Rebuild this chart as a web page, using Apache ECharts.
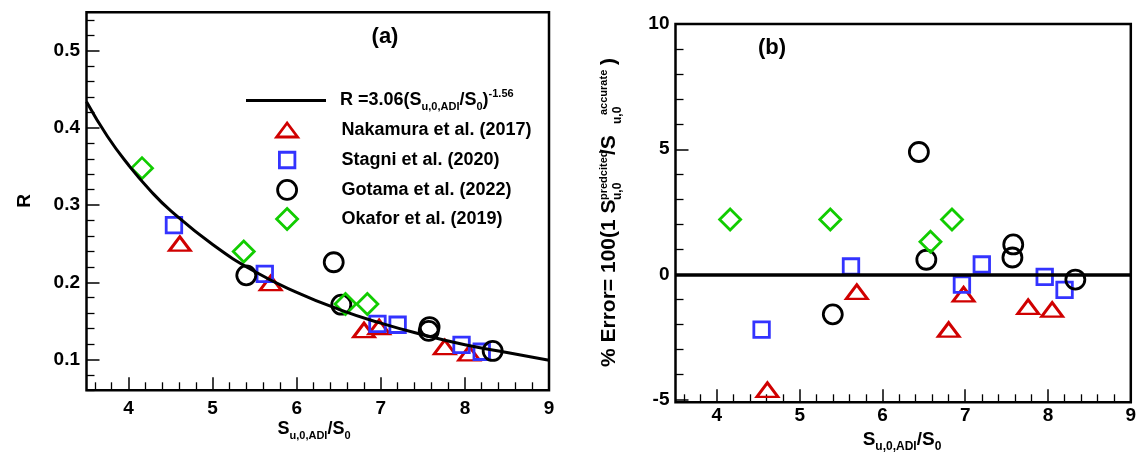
<!DOCTYPE html>
<html><head><meta charset="utf-8">
<script src="https://cdn.jsdelivr.net/npm/echarts@6/dist/echarts.min.js"></script>
<style>html,body{margin:0;padding:0;background:#fff}#c{width:1142px;height:459px}</style>
</head><body><div id="c"></div>
<script>
// ---- data ----
const fitX = [3.5, 3.75, 4, 4.25, 4.5, 5, 5.5, 6, 6.5, 7, 7.5, 8, 8.5, 9];
const fitR = [0.434, 0.389, 0.352, 0.320, 0.293, 0.249, 0.214, 0.187, 0.165, 0.147, 0.132, 0.119, 0.109, 0.099];

const nakX = [4.61, 5.69, 6.80, 6.98, 7.76, 8.05];
const nakR = [0.250, 0.199, 0.138, 0.142, 0.116, 0.108];
const nakE = [-4.6, -0.69, -2.2, -0.79, -1.29, -1.4];

const stagX = [4.54, 5.62, 6.96, 7.20, 7.96, 8.20];
const stagR = [0.274, 0.211, 0.146, 0.145, 0.119, 0.110];
const stagE = [-2.2, 0.32, -0.4, 0.4, -0.09, -0.61];

const gotX = [5.40, 6.44, 6.53, 7.58, 7.57, 8.33];
const gotR = [0.209, 0.226, 0.171, 0.142, 0.137, 0.111];
const gotE = [-1.59, 4.89, 0.59, 1.2, 0.68, -0.2];

const okaX = [4.16, 5.37, 6.58, 6.84];
const okaR = [0.348, 0.240, 0.172, 0.172];
const okaE = [2.2, 2.2, 1.31, 2.2];

const zeroLine = [0];

// tick labels
const xTicks = [4, 5, 6, 7, 8, 9];
const xMinor = [3.6, 3.8, 4.2, 4.4, 4.6, 4.8, 5.2, 5.4, 5.6, 5.8, 6.2, 6.4, 6.6, 6.8, 7.2, 7.4, 7.6, 7.8, 8.2, 8.4, 8.6, 8.8];
const rTicks = [0.1, 0.2, 0.3, 0.4, 0.5];
const rMinor = [0.06, 0.08, 0.12, 0.14, 0.16, 0.18, 0.22, 0.24, 0.26, 0.28, 0.32, 0.34, 0.36, 0.38, 0.42, 0.44, 0.46, 0.48, 0.52, 0.54];
const eTicks = [-5, 0, 5, 10];
const eMinor = [-4, -3, -2, -1, 1, 2, 3, 4, 6, 7, 8, 9];

const names = ['eq', 'Nakamura et al. (2017)', 'Stagni et al. (2020)', 'Gotama et al. (2022)', 'Okafor et al. (2019)'];

// ---- styling ----
const FONT = '"Liberation Sans", Arial, sans-serif';
const RED = '#d00000', BLUE = '#3333ff', BLACK = '#000000', GREEN = '#11cc00';
const BW = 2.8;
const zip = (a, b) => a.map((v, i) => [v, b[i]]);

function majorAxis(grid, min, max, ticks, fmt, margin, fs, pos) {
  return {type: 'value', gridIndex: grid, position: pos, min: min, max: max,
    axisLine: {show: false, onZero: false}, splitLine: {show: false},
    axisTick: {show: true, inside: true, length: 13, customValues: ticks, lineStyle: {color: '#000', width: 1.5}},
    axisLabel: {show: true, customValues: ticks, formatter: fmt, margin: margin, color: '#000',
      fontSize: fs, fontWeight: 'bold', fontFamily: FONT}};
}
function minorAxis(grid, min, max, ticks, pos) {
  return {type: 'value', gridIndex: grid, position: pos, min: min, max: max,
    axisLine: {show: false, onZero: false}, splitLine: {show: false},
    axisTick: {show: true, inside: true, length: 8, customValues: ticks, lineStyle: {color: '#000', width: 1.3}},
    axisLabel: {show: false}};
}
function scat(name, x, y, xi, yi, symbol, size, color) {
  return {type: 'scatter', name: name, xAxisIndex: xi, yAxisIndex: yi, data: zip(x, y),
    symbol: symbol, symbolSize: size,
    itemStyle: {color: 'rgba(0,0,0,0)', borderColor: color, borderWidth: BW, opacity: 1},
    emphasis: {disabled: true}};
}
function leg(name, left, top, iw, ih, color, padL) {
  return {left: left, top: top, padding: 0, itemWidth: iw, itemHeight: ih, data: [name], selectedMode: false,
    itemStyle: {color: 'rgba(0,0,0,0)', borderColor: color, borderWidth: BW},
    textStyle: {fontSize: 18, fontWeight: 'bold', fontFamily: FONT, color: '#000', lineHeight: 20, padding: [0, 0, 0, padL]}};
}

const T = {tri: [21, 14], sq: 15.5, ci: 19, di: 21};

const option = {
  animation: false,
  backgroundColor: '#fff',
  grid: [
    {left: 86.5, top: 12.3, width: 462.5, height: 378, show: true, borderColor: '#000', borderWidth: 2.5, backgroundColor: 'rgba(0,0,0,0)'},
    {left: 675.5, top: 24, width: 455.3, height: 378.3, show: true, borderColor: '#000', borderWidth: 2.5, backgroundColor: 'rgba(0,0,0,0)'}
  ],
  xAxis: [
    majorAxis(0, 3.5, 9, xTicks, v => String(v), 9, 19, 'bottom'),
    minorAxis(0, 3.5, 9, xMinor, 'bottom'),
    majorAxis(1, 3.5, 9, xTicks, v => String(v), 4, 19, 'bottom'),
    minorAxis(1, 3.5, 9, xMinor, 'bottom')
  ],
  yAxis: [
    majorAxis(0, 0.06, 0.55, rTicks, v => v.toFixed(1), 6.5, 19, 'left'),
    minorAxis(0, 0.06, 0.55, rMinor, 'left'),
    majorAxis(1, -5.1, 10, eTicks, v => String(v), 6, 19, 'left'),
    minorAxis(1, -5.1, 10, eMinor, 'left')
  ],
  legend: [
    {left: 246, top: 88.5, padding: 0, itemWidth: 80, itemHeight: 3, data: [{name: 'eq', icon: 'rect'}], selectedMode: false,
      itemStyle: {color: '#000', borderWidth: 0},
      formatter: () => '{m|R =3.06(S}{s|u,0,ADI}{m|/S}{s|0}{m|)}{p|-1.56}',
      textStyle: {fontSize: 18, fontWeight: 'bold', fontFamily: FONT, color: '#000', padding: [0, 0, 0, 9],
        rich: {
          m: {fontSize: 18, fontWeight: 'bold', fontFamily: FONT, color: '#000', lineHeight: 24},
          s: {fontSize: 11, fontWeight: 'bold', fontFamily: FONT, color: '#000', lineHeight: 11, verticalAlign: 'bottom'},
          p: {fontSize: 11, fontWeight: 'bold', fontFamily: FONT, color: '#000', lineHeight: 11, verticalAlign: 'top'}
        }}},
    leg(names[1], 275.2, 120, 21, 14, RED, 38.8),
    leg(names[2], 278, 150, 15.5, 15.5, BLUE, 41.5),
    leg(names[3], 276.2, 179, 19, 19, BLACK, 39.8),
    leg(names[4], 275.2, 207.2, 21, 21, GREEN, 38.8)
  ],
  series: [
    {type: 'line', name: 'eq', xAxisIndex: 0, yAxisIndex: 0, data: zip(fitX, fitR), smooth: true,
      showSymbol: false, symbol: 'none', lineStyle: {color: '#000', width: 3}, itemStyle: {color: '#000'}, emphasis: {disabled: true}},
    scat(names[1], nakX, nakR, 0, 0, 'triangle', T.tri, RED),
    scat(names[2], stagX, stagR, 0, 0, 'rect', T.sq, BLUE),
    scat(names[3], gotX, gotR, 0, 0, 'circle', T.ci, BLACK),
    scat(names[4], okaX, okaR, 0, 0, 'diamond', T.di, GREEN),
    Object.assign(scat(names[1], nakX, nakE, 2, 2, 'triangle', T.tri, RED), {
      markLine: {silent: true, symbol: ['none', 'none'], label: {show: false},
        lineStyle: {color: '#000', width: 3.5, type: 'solid'}, data: zeroLine.map(v => ({yAxis: v}))}}),
    scat(names[2], stagX, stagE, 2, 2, 'rect', T.sq, BLUE),
    scat(names[3], gotX, gotE, 2, 2, 'circle', T.ci, BLACK),
    scat(names[4], okaX, okaE, 2, 2, 'diamond', T.di, GREEN)
  ],
  graphic: [
    {type: 'text', x: 385, y: 37, style: {text: '(a)', font: 'bold 22px ' + FONT, fill: '#000', align: 'center', verticalAlign: 'middle'}},
    {type: 'text', x: 772, y: 48, style: {text: '(b)', font: 'bold 22px ' + FONT, fill: '#000', align: 'center', verticalAlign: 'middle'}},
    {type: 'text', x: 25, y: 201, rotation: Math.PI / 2, style: {text: 'R', font: 'bold 19px ' + FONT, fill: '#000', align: 'center', verticalAlign: 'middle'}},
    {type: 'text', x: 314, y: 429, style: {text: '{m|S}{s|u,0,ADI}{m|/S}{s|0}', align: 'center', verticalAlign: 'middle', fill: '#000',
      rich: {m: {font: 'bold 18px ' + FONT, lineHeight: 24, fill: '#000'}, s: {font: 'bold 11px ' + FONT, lineHeight: 11, verticalAlign: 'bottom', fill: '#000'}}}},
    {type: 'text', x: 902, y: 440, style: {text: '{m|S}{s|u,0,ADI}{m|/S}{s|0}', align: 'center', verticalAlign: 'middle', fill: '#000',
      rich: {m: {font: 'bold 19px ' + FONT, lineHeight: 25, fill: '#000'}, s: {font: 'bold 12px ' + FONT, lineHeight: 12, verticalAlign: 'bottom', fill: '#000'}}}},
    {type: 'group', x: 619, y: 367, rotation: Math.PI / 2, children: [
      {type: 'text', x: 0, y: -9.5, style: {text: '% Error= 100(1 S', font: 'bold 21px ' + FONT, fill: '#000', align: 'left', verticalAlign: 'middle'}},
      {type: 'text', x: 167, y: -1.5, style: {text: 'u,0', font: 'bold 12px ' + FONT, fill: '#000', align: 'left', verticalAlign: 'middle'}},
      {type: 'text', x: 167, y: -15, style: {text: 'predcited', font: 'bold 11px ' + FONT, fill: '#000', align: 'left', verticalAlign: 'middle'}},
      {type: 'text', x: 212, y: -9.5, style: {text: '/S', font: 'bold 21px ' + FONT, fill: '#000', align: 'left', verticalAlign: 'middle'}},
      {type: 'text', x: 243, y: -1.5, style: {text: 'u,0', font: 'bold 12px ' + FONT, fill: '#000', align: 'left', verticalAlign: 'middle'}},
      {type: 'text', x: 252, y: -15, style: {text: 'accurate', font: 'bold 11px ' + FONT, fill: '#000', align: 'left', verticalAlign: 'middle'}},
      {type: 'text', x: 302, y: -9.5, style: {text: ')', font: 'bold 21px ' + FONT, fill: '#000', align: 'left', verticalAlign: 'middle'}}
    ]}
  ]
};
const chart = echarts.init(document.getElementById('c'), null, {renderer: 'canvas'});
chart.setOption(option);
</script></body></html>
